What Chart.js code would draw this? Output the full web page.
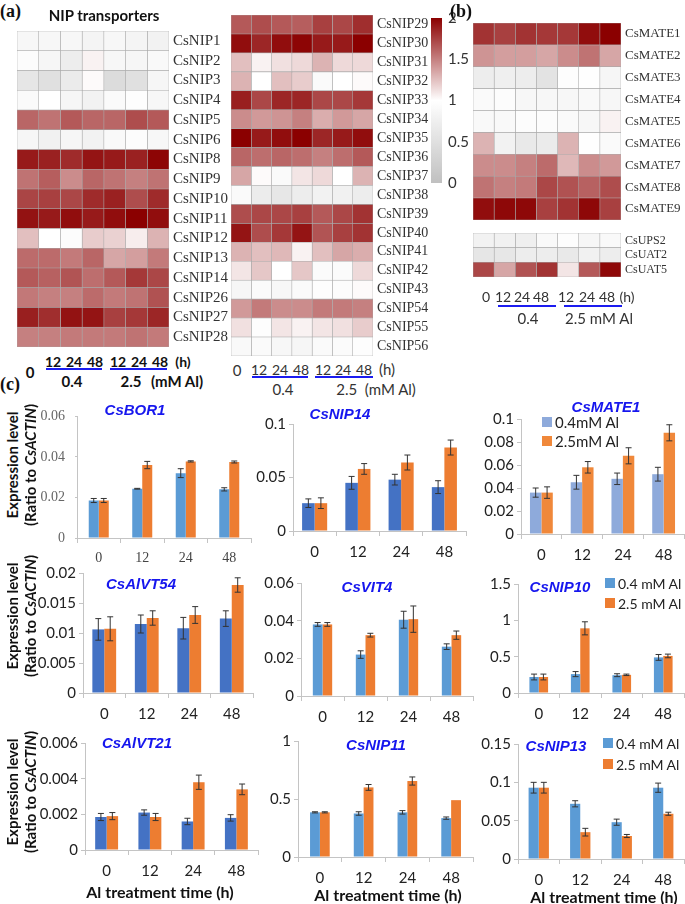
<!DOCTYPE html>
<html>
<head>
<meta charset="utf-8">
<script src="https://cdn.jsdelivr.net/npm/chart.js@4.4.1/dist/chart.umd.min.js"></script>
<style>
  body { margin: 0; background: #fff; }
  #page { position: relative; width: 685px; height: 904px; overflow: hidden; background: #fff; }
  .t { position: absolute; white-space: nowrap; line-height: 1; }
  .line { position: absolute; height: 2px; background: #1c1cf0; }
  canvas { position: absolute; }
</style>
</head>
<body>
<div id="page"></div>
<script>
// ---------- heatmap data (relative expression, 0..2) ----------
const heatCols = ['0', '12', '24', '48', '12', '24', '48'];

const nipGenesA = ['CsNIP1','CsNIP2','CsNIP3','CsNIP4','CsNIP5','CsNIP6','CsNIP8','CsNIP9','CsNIP10',
  'CsNIP11','CsNIP12','CsNIP13','CsNIP14','CsNIP26','CsNIP27','CsNIP28'];
const nipValsA = [
  [0.88, 0.87, 0.87, 0.83, 0.87, 0.83, 0.80],
  [0.95, 0.85, 0.72, 1.05, 0.88, 0.85, 0.90],
  [0.60, 0.50, 0.68, 1.02, 0.45, 0.50, 0.85],
  [0.92, 1.00, 0.85, 0.80, 0.92, 0.97, 0.88],
  [1.60, 1.55, 1.65, 1.60, 1.60, 1.70, 1.65],
  [0.85, 0.78, 0.85, 0.80, 0.90, 0.95, 0.88],
  [1.90, 1.87, 1.83, 1.92, 1.90, 1.87, 1.98],
  [1.55, 1.63, 1.45, 1.60, 1.55, 1.50, 1.55],
  [1.73, 1.75, 1.72, 1.83, 1.87, 1.70, 1.83],
  [1.93, 1.90, 1.95, 1.90, 1.95, 2.00, 1.95],
  [1.25, 1.00, 0.95, 1.20, 1.18, 1.07, 1.30],
  [1.58, 1.58, 1.52, 1.60, 1.35, 1.38, 1.52],
  [1.65, 1.62, 1.67, 1.57, 1.65, 1.78, 1.72],
  [1.53, 1.50, 1.50, 1.58, 1.52, 1.55, 1.68],
  [1.88, 1.82, 1.93, 1.92, 1.75, 1.78, 1.85],
  [1.50, 1.50, 1.52, 1.52, 1.52, 1.55, 1.52]
];

const nipGenesB = ['CsNIP29','CsNIP30','CsNIP31','CsNIP32','CsNIP33','CsNIP34','CsNIP35','CsNIP36','CsNIP37',
  'CsNIP38','CsNIP39','CsNIP40','CsNIP41','CsNIP42','CsNIP43','CsNIP54','CsNIP55','CsNIP56'];
const nipValsB = [
  [1.65, 1.70, 1.65, 1.63, 1.75, 1.72, 1.82],
  [1.95, 1.85, 1.95, 1.98, 1.90, 1.90, 2.00],
  [1.25, 1.05, 1.12, 1.15, 1.30, 1.15, 1.15],
  [1.30, 1.00, 1.25, 1.20, 0.92, 1.00, 1.02],
  [1.88, 1.72, 1.85, 1.85, 1.72, 1.72, 1.78],
  [1.45, 1.40, 1.42, 1.50, 1.32, 1.40, 1.35],
  [2.00, 1.90, 1.95, 2.00, 1.85, 1.90, 1.95],
  [1.60, 1.57, 1.60, 1.57, 1.50, 1.57, 1.65],
  [1.35, 1.02, 0.92, 1.10, 1.15, 1.00, 1.30],
  [0.92, 0.70, 0.62, 0.72, 0.80, 0.78, 0.72],
  [1.70, 1.72, 1.72, 1.75, 1.65, 1.72, 1.80],
  [1.92, 1.70, 1.78, 1.92, 1.67, 1.75, 1.80],
  [1.30, 1.25, 1.28, 1.05, 1.25, 1.35, 1.32],
  [1.10, 1.22, 1.00, 1.22, 0.93, 0.93, 1.15],
  [0.85, 0.92, 0.88, 0.92, 0.97, 0.95, 1.02],
  [1.40, 1.52, 1.45, 1.45, 1.52, 1.52, 1.50],
  [1.12, 0.97, 1.10, 1.05, 1.10, 1.12, 1.20],
  [0.90, 0.92, 0.88, 0.85, 0.92, 0.93, 0.97]
];

const mateGenes = ['CsMATE1','CsMATE2','CsMATE3','CsMATE4','CsMATE5','CsMATE6','CsMATE7','CsMATE8','CsMATE9'];
const mateVals = [
  [1.80, 1.75, 1.80, 1.78, 1.78, 1.95, 2.00],
  [1.42, 1.38, 1.38, 1.35, 1.45, 1.55, 1.35],
  [0.72, 0.75, 0.72, 0.55, 0.97, 0.98, 0.85],
  [0.92, 0.95, 0.88, 0.87, 0.88, 0.90, 0.88],
  [0.90, 0.90, 0.95, 0.95, 0.92, 0.88, 1.05],
  [1.30, 0.80, 0.65, 0.68, 1.30, 0.98, 0.92],
  [1.45, 1.45, 1.50, 1.58, 1.28, 1.45, 1.40],
  [1.55, 1.50, 1.52, 1.72, 1.68, 1.62, 1.70],
  [1.95, 1.97, 1.97, 1.75, 1.80, 1.97, 1.75]
];

const otherGenes = ['CsUPS2', 'CsUAT2', 'CsUAT5'];
const otherVals = [
  [0.80, 0.78, 0.75, 0.90, 0.97, 0.85, 0.90],
  [0.60, 0.62, 0.72, 0.72, 0.65, 0.78, 0.72],
  [1.72, 1.35, 1.68, 1.80, 1.10, 1.65, 1.97]
];

const colorbarTicks = [0, 0.5, 1, 1.5, 2];

// ---------- bar chart data (ratio to CsACTIN) ----------
const timeLabels = ['0', '12', '24', '48'];

const bor1Low = [0.0185, 0.0243, 0.032, 0.024];
const bor1LowErr = [0.001, 0.0002, 0.0022, 0.0008];
const bor1High = [0.0185, 0.036, 0.0378, 0.0375];
const bor1HighErr = [0.001, 0.0018, 0.0003, 0.0005];

const nip14Low = [0.026, 0.045, 0.048, 0.041];
const nip14LowErr = [0.004, 0.006, 0.005, 0.006];
const nip14High = [0.026, 0.058, 0.064, 0.078];
const nip14HighErr = [0.005, 0.005, 0.007, 0.007];

const mate1Low = [0.036, 0.045, 0.048, 0.052];
const mate1LowErr = [0.004, 0.006, 0.005, 0.006];
const mate1High = [0.036, 0.058, 0.068, 0.088];
const mate1HighErr = [0.005, 0.005, 0.007, 0.007];

const alvt54Low = [0.0106, 0.0115, 0.0108, 0.0124];
const alvt54LowErr = [0.0018, 0.0015, 0.0018, 0.0013];
const alvt54High = [0.0107, 0.0125, 0.013, 0.018];
const alvt54HighErr = [0.002, 0.0012, 0.0014, 0.0012];

const vit4Low = [0.038, 0.022, 0.0405, 0.0262];
const vit4LowErr = [0.001, 0.002, 0.0045, 0.0015];
const vit4High = [0.038, 0.0323, 0.0408, 0.0323];
const vit4HighErr = [0.001, 0.001, 0.007, 0.0022];

const nip10Low = [0.22, 0.26, 0.245, 0.49];
const nip10LowErr = [0.04, 0.035, 0.02, 0.04];
const nip10High = [0.22, 0.89, 0.25, 0.51];
const nip10HighErr = [0.04, 0.09, 0.01, 0.025];

const alvt21Low = [0.00185, 0.0021, 0.0016, 0.0018];
const alvt21LowErr = [0.0002, 0.00015, 0.00018, 0.00018];
const alvt21High = [0.0019, 0.00185, 0.0038, 0.0034];
const alvt21HighErr = [0.0002, 0.0002, 0.0004, 0.0003];

const nip11Low = [0.385, 0.375, 0.385, 0.335];
const nip11LowErr = [0.005, 0.015, 0.015, 0.01];
const nip11High = [0.385, 0.6, 0.655, 0.49];
const nip11HighErr = [0.005, 0.025, 0.035, 0];

const nip13Low = [0.093, 0.072, 0.048, 0.093];
const nip13LowErr = [0.007, 0.004, 0.004, 0.006];
const nip13High = [0.093, 0.035, 0.030, 0.059];
const nip13HighErr = [0.007, 0.005, 0.002, 0.002];

// ---------- helpers ----------
const page = document.getElementById('page');
const SANS = 'Lato, "Open Sans", sans-serif';
const SERIF = '"Liberation Serif", "DejaVu Serif", serif';

function heatColor(v) {
  v = Math.max(0, Math.min(2, v));
  if (v <= 1) {
    const g = Math.round(192 + 63 * v);
    return `rgb(${g},${g},${g})`;
  }
  const t = v - 1;
  const r = Math.round(255 - 116 * t);
  const gb = Math.round(255 * (1 - t));
  return `rgb(${r},${gb},${gb})`;
}

function addCanvas(left, top, w, h) {
  const c = document.createElement('canvas');
  c.width = w; c.height = h;
  c.style.left = left + 'px'; c.style.top = top + 'px';
  c.style.width = w + 'px'; c.style.height = h + 'px';
  page.appendChild(c);
  return c;
}

function text(str, x, y, css, anchor) {
  const d = document.createElement('div');
  d.className = 't';
  d.innerHTML = str;
  d.style.left = x + 'px';
  d.style.top = y + 'px';
  d.style.transform = anchor === 'l' ? 'translate(0,-50%)' : 'translate(-50%,-50%)';
  d.style.cssText += css || '';
  page.appendChild(d);
  return d;
}

function blueLine(x1, x2, y) {
  const d = document.createElement('div');
  d.className = 'line';
  d.style.left = x1 + 'px'; d.style.top = y + 'px'; d.style.width = (x2 - x1) + 'px';
  page.appendChild(d);
}

// tiny lineHeight keeps the side labels from padding the plot area
function makeHeat(box, genes, vals) {
  const cv = addCanvas(box.x, box.y, box.w + box.lw, box.h);
  const datasets = [];
  for (let c = 0; c < heatCols.length; c++) {
    datasets.push({
      label: heatCols[c],
      data: genes.map(() => 1),
      backgroundColor: vals.map(r => heatColor(r[c])),
      borderColor: '#a9a9a9',
      borderWidth: 0.6,
      borderSkipped: false,
      barPercentage: 1,
      categoryPercentage: 1
    });
  }
  new Chart(cv, {
    type: 'bar',
    data: { labels: genes, datasets },
    options: {
      indexAxis: 'y',
      responsive: false,
      animation: false,
      layout: { padding: 0 },
      plugins: { legend: { display: false }, tooltip: { enabled: false } },
      scales: {
        x: { stacked: true, min: 0, max: heatCols.length, display: false },
        y: {
          stacked: true,
          position: 'right',
          grid: { display: false, drawTicks: false },
          border: { display: false },
          ticks: { font: { family: SERIF, size: box.fs, lineHeight: 0.01 }, color: '#333', padding: 4, autoSkip: false },
          afterFit: s => { s.width = box.lw; }
        }
      }
    }
  });
}

function makeColorbar() {
  const cv = addCanvas(431, 10, 60, 182);
  new Chart(cv, {
    type: 'bar',
    data: {
      labels: ['scale'],
      datasets: [{
        data: [[colorbarTicks[0], colorbarTicks[colorbarTicks.length - 1]]],
        barPercentage: 1,
        categoryPercentage: 1,
        backgroundColor: ctx => {
          const a = ctx.chart.chartArea;
          if (!a) return '#ccc';
          const g = ctx.chart.ctx.createLinearGradient(0, a.bottom, 0, a.top);
          for (let i = 0; i <= 20; i++) g.addColorStop(i / 20, heatColor(i / 10));
          return g;
        }
      }]
    },
    options: {
      responsive: false,
      animation: false,
      layout: { padding: { top: 8, bottom: 9 } },
      plugins: { legend: { display: false }, tooltip: { enabled: false } },
      scales: {
        x: { display: false },
        y: {
          position: 'right', min: 0, max: 2,
          afterBuildTicks: s => { s.ticks = colorbarTicks.map(v => ({ value: v })); },
          grid: { display: false, drawTicks: false }, border: { display: false },
          ticks: { font: { family: SANS, size: 15, lineHeight: 0.01 }, color: '#333', padding: 6, callback: v => String(v) },
          afterFit: s => { s.width = 49; }
        }
      }
    }
  });
}

const errorBars = {
  id: 'errorBars',
  afterDatasetsDraw(chart) {
    const c = chart.ctx;
    const ys = chart.scales.y;
    chart.data.datasets.forEach((ds, i) => {
      chart.getDatasetMeta(i).data.forEach((bar, j) => {
        const e = ds.err[j];
        if (!e) return;
        const v = ds.data[j];
        const yt = ys.getPixelForValue(v + e), yb = ys.getPixelForValue(v - e);
        c.save();
        c.strokeStyle = '#333';
        c.lineWidth = 1;
        c.beginPath();
        c.moveTo(bar.x, yt); c.lineTo(bar.x, yb);
        c.moveTo(bar.x - 3, yt); c.lineTo(bar.x + 3, yt);
        c.moveTo(bar.x - 3, yb); c.lineTo(bar.x + 3, yb);
        c.stroke();
        c.restore();
      });
    });
  }
};

const YW = 48, PT = 10, XH = 30;
function makeBars(b, low, lowErr, high, highErr) {
  const left = b.ax - YW;
  const top = b.top - PT;
  const w = b.right - left + 4;
  const h = b.bottom - top + XH;
  const cv = addCanvas(left, top, w, h);
  const font = b.serif ? { family: SERIF, size: 14 } : { family: SANS, size: 15 };
  new Chart(cv, {
    type: 'bar',
    data: {
      labels: timeLabels,
      datasets: [
        { label: 'low', data: low, err: lowErr, backgroundColor: b.blue, barPercentage: 1, categoryPercentage: b.cat },
        { label: 'high', data: high, err: highErr, backgroundColor: b.orange, barPercentage: 1, categoryPercentage: b.cat }
      ]
    },
    plugins: [errorBars],
    options: {
      responsive: false,
      animation: false,
      layout: { padding: { top: PT, right: 4, left: 0, bottom: 0 } },
      plugins: { legend: { display: false }, tooltip: { enabled: false } },
      scales: {
        x: {
          grid: { offset: true, drawOnChartArea: false, tickLength: 5, color: '#c4c4c4' },
          border: { color: '#c4c4c4' },
          ticks: { font, color: b.serif ? '#444' : '#222', padding: 7 },
          afterFit: s => { s.height = XH; }
        },
        y: {
          min: 0, max: b.max,
          ticks: { stepSize: b.step, font, color: b.serif ? '#666' : '#222', padding: b.serif ? 10 : 3,
                   callback: v => String(+v.toFixed(4)) },
          grid: { drawOnChartArea: false, tickLength: b.serif ? 2 : 4, color: '#c4c4c4' },
          border: { color: '#c4c4c4' },
          afterFit: s => { s.width = YW; }
        }
      }
    }
  });
}

// ---------- heatmaps ----------
makeHeat({ x: 17, y: 27, w: 152, h: 324, lw: 62, fs: 15 }, nipGenesA, nipValsA);
makeHeat({ x: 231, y: 11, w: 142, h: 349, lw: 56, fs: 14 }, nipGenesB, nipValsB);
makeHeat({ x: 473, y: 19, w: 148, h: 205, lw: 64, fs: 13 }, mateGenes, mateVals);
makeHeat({ x: 473, y: 229, w: 148, h: 52, lw: 64, fs: 12 }, otherGenes, otherVals);
makeColorbar();

text('(a)', 0, 11, `font: bold 18px ${SERIF}; color:#111;`, 'l');
text('(b)', 450, 11, `font: bold 18px ${SERIF}; color:#111;`, 'l');
text('(c)', 0, 384, `font: bold 18px ${SERIF}; color:#111;`, 'l');
text('NIP transporters', 104, 15, `font: bold 15px ${SANS}; color:#111;`);

// (a) left axis labels
const boldLab = `font: bold 14px ${SANS}; color:#111;`;
text('0', 30, 372, `font: bold 15px ${SANS}; color:#111;`);
[[53, '12'], [74, '24'], [95, '48'], [118, '12'], [139, '24'], [160, '48']].forEach(p => text(p[1], p[0], 361, boldLab));
text('(h)', 183, 361, boldLab);
blueLine(46, 102, 368);
blueLine(110, 167, 368);
text('0.4', 72, 381, `font: bold 15px ${SANS}; color:#111;`);
text('2.5', 131, 381, `font: bold 15px ${SANS}; color:#111;`);
text('(mM Al)', 177, 381, `font: bold 15px ${SANS}; color:#111;`);

// (a) middle axis labels
const normLab = `font: 15px ${SANS}; color:#333;`;
const midLab = `font: 14px ${SANS}; color:#333;`;
text('0', 237, 370, normLab);
[[259, '12'], [280, '24'], [301, '48'], [323, '12'], [343, '24'], [364, '48']].forEach(p => text(p[1], p[0], 369, midLab));
text('(h)', 387, 369, normLab);
blueLine(252, 308, 376);
blueLine(315, 373, 376);
text('0.4', 283, 389, normLab);
text('2.5&nbsp; (mM Al)', 376, 389, normLab);

// (b) axis labels
const smallLab = `font: 14px ${SANS}; color:#333;`;
[[486, '0'], [503, '12'], [522, '24'], [541, '48'], [566, '12'], [587, '24'], [607, '48'], [627, '(h)']]
  .forEach(p => text(p[1], p[0], 296, smallLab));
blueLine(498, 556, 305);
blueLine(564, 622, 305);
text('0.4', 528, 318, normLab);
text('2.5 mM Al', 599, 318, normLab);

// ---------- bar charts ----------
const C_BLUE = '#4472c4', C_SKY = '#5b9bd5', C_LIGHT = '#8eaadb', C_ORANGE = '#ed7d31';

makeBars({ ax: 77, top: 408, bottom: 538, right: 251, max: 0.06, step: 0.02, blue: C_SKY, orange: C_ORANGE, cat: 0.46, serif: true },
  bor1Low, bor1LowErr, bor1High, bor1HighErr);
makeBars({ ax: 293, top: 422, bottom: 531, right: 466, max: 0.1, step: 0.05, blue: C_BLUE, orange: C_ORANGE, cat: 0.58 },
  nip14Low, nip14LowErr, nip14High, nip14HighErr);
makeBars({ ax: 521, top: 417, bottom: 534, right: 684, max: 0.1, step: 0.02, blue: C_LIGHT, orange: '#f0883a', cat: 0.56 },
  mate1Low, mate1LowErr, mate1High, mate1HighErr);
makeBars({ ax: 83, top: 571, bottom: 693, right: 253, max: 0.02, step: 0.005, blue: C_BLUE, orange: C_ORANGE, cat: 0.56 },
  alvt54Low, alvt54LowErr, alvt54High, alvt54HighErr);
makeBars({ ax: 301, top: 581, bottom: 696, right: 473, max: 0.06, step: 0.02, blue: C_SKY, orange: C_ORANGE, cat: 0.45 },
  vit4Low, vit4LowErr, vit4High, vit4HighErr);
makeBars({ ax: 518, top: 582, bottom: 693, right: 684, max: 1.5, step: 0.5, blue: C_SKY, orange: C_ORANGE, cat: 0.45 },
  nip10Low, nip10LowErr, nip10High, nip10HighErr);
makeBars({ ax: 85, top: 741, bottom: 850, right: 258, max: 0.006, step: 0.002, blue: C_BLUE, orange: C_ORANGE, cat: 0.53 },
  alvt21Low, alvt21LowErr, alvt21High, alvt21HighErr);
makeBars({ ax: 298, top: 739, bottom: 857, right: 473, max: 1, step: 0.5, blue: C_SKY, orange: C_ORANGE, cat: 0.45 },
  nip11Low, nip11LowErr, nip11High, nip11HighErr);
makeBars({ ax: 518, top: 742, bottom: 859, right: 684, max: 0.15, step: 0.05, blue: C_SKY, orange: C_ORANGE, cat: 0.49 },
  nip13Low, nip13LowErr, nip13High, nip13HighErr);

// gene titles
const geneCss = `font: bold italic 15px "Liberation Sans", Arial, sans-serif; color:#1616ee;`;
[['CsBOR1', 135, 409], ['CsNIP14', 340, 413], ['CsMATE1', 606, 406],
 ['CsAlVT54', 141, 583], ['CsVIT4', 367, 586], ['CsNIP10', 560, 586],
 ['CsAlVT21', 137, 742], ['CsNIP11', 376, 744], ['CsNIP13', 556, 745]]
  .forEach(g => text(g[0], g[1], g[2], geneCss));

// legends
function legendItem(x, y, color, label, fs) {
  const sq = document.createElement('div');
  sq.style.cssText = `position:absolute; left:${x}px; top:${y - 5}px; width:10px; height:10px; background:${color};`;
  page.appendChild(sq);
  text(label, x + 13, y, `font: ${fs}px ${SANS}; color:#222;`, 'l');
}
legendItem(542, 422, C_LIGHT, '0.4mM Al', 15);
legendItem(542, 441, '#f0883a', '2.5mM Al', 15);
legendItem(605, 583, C_SKY, '0.4 mM Al', 14);
legendItem(605, 603, C_ORANGE, '2.5 mM Al', 14);
legendItem(603, 743, C_SKY, '0.4 mM Al', 14);
legendItem(603, 764, C_ORANGE, '2.5 mM Al', 14);

// axis titles
const yTitle = `font: bold 15px ${SANS}; color:#111; transform: translate(-50%,-50%) rotate(-90deg);`;
[465, 616, 792].forEach(cy => {
  text('Expression level', 12, cy, yTitle);
  text('(Ratio to <i>CsACTIN</i>)', 30, cy, yTitle);
});
const xTitle = `font: bold 16px ${SANS}; color:#111;`;
text('Al treatment time (h)', 160, 891, xTitle);
text('Al treatment time (h)', 388, 894, xTitle);
text('Al treatment time (h)', 604, 896, xTitle);
</script>
</body>
</html>
